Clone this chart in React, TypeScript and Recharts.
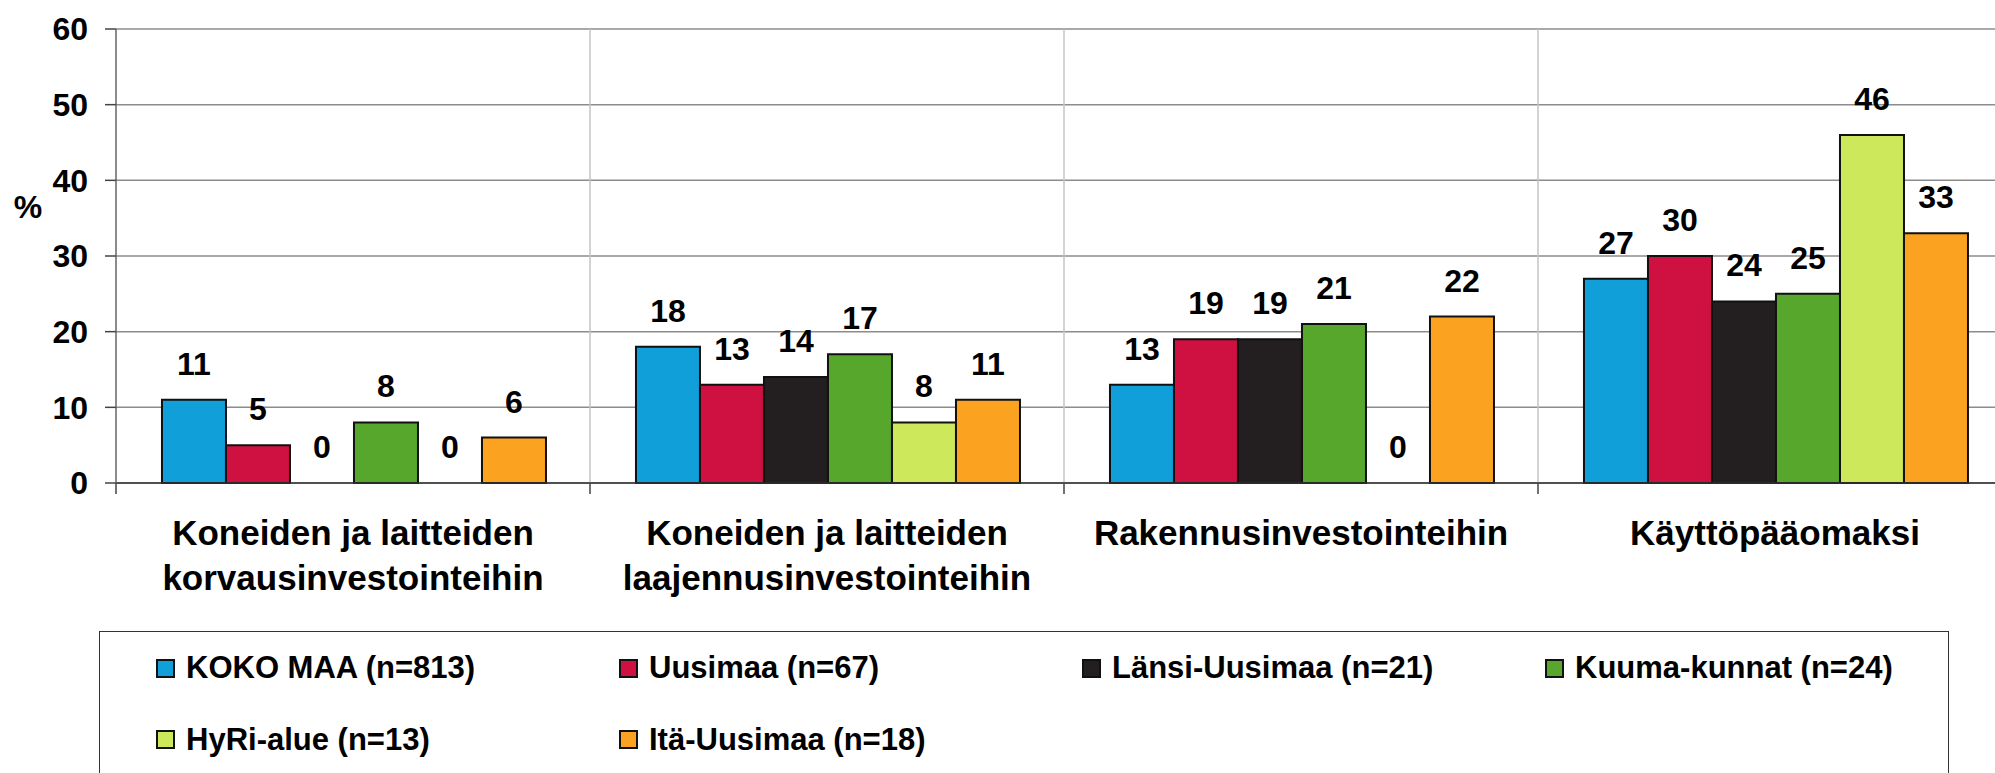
import { Bar, BarChart, CartesianGrid, LabelList, Legend, Rectangle, XAxis, YAxis } from "recharts";

// categories (line breaks as in the original axis labels)
const categories = [
  "Koneiden ja laitteiden\nkorvausinvestointeihin",
  "Koneiden ja laitteiden\nlaajennusinvestointeihin",
  "Rakennusinvestointeihin",
  "Käyttöpääomaksi",
];

// % per region
const kokoMaa = [11, 18, 13, 27];
const uusimaa = [5, 13, 19, 30];
const lansiUusimaa = [0, 14, 19, 24];
const kuumaKunnat = [8, 17, 21, 25];
const hyriAlue = [0, 8, 0, 46];
const itaUusimaa = [6, 11, 22, 33];

const yTicks = [0, 10, 20, 30, 40, 50, 60];

const series = [
  { key: "kokoMaa", name: "KOKO MAA (n=813)", values: kokoMaa, color: "#109FD9" },
  { key: "uusimaa", name: "Uusimaa (n=67)", values: uusimaa, color: "#CE1140" },
  { key: "lansiUusimaa", name: "Länsi-Uusimaa (n=21)", values: lansiUusimaa, color: "#231F20" },
  { key: "kuumaKunnat", name: "Kuuma-kunnat (n=24)", values: kuumaKunnat, color: "#57A72C" },
  { key: "hyriAlue", name: "HyRi-alue (n=13)", values: hyriAlue, color: "#CDE85A" },
  { key: "itaUusimaa", name: "Itä-Uusimaa (n=18)", values: itaUusimaa, color: "#FBA320" },
];

const data = categories.map((name, i) => {
  const row: Record<string, string | number> = { name };
  series.forEach((s) => (row[s.key] = s.values[i]));
  return row;
});

const FONT = "'Liberation Sans', Arial, sans-serif";
const CHART_W = 2030;
const CHART_H = 773;
const MARGIN = { top: 29, right: 18, bottom: 190, left: 0 };
const Y_W = 116;
const PLOT_W = CHART_W - MARGIN.left - MARGIN.right - Y_W;

// vertical grid lines sit on category boundaries, not centres
const boundaryLines = ({ offset }: any) => {
  const step = offset.width / categories.length;
  return categories.slice(1).map((_, i) => offset.left + (i + 1) * step);
};

const CategoryTick = (props: any) => {
  const { x, y, payload } = props;
  const half = PLOT_W / categories.length / 2;
  const lines = String(payload.value).split("\n");
  return (
    <g>
      <line x1={x - half} x2={x - half} y1={y} y2={y + 11} stroke="#444" strokeWidth={1.5} />
      <text
        x={x}
        y={y + 62}
        textAnchor="middle"
        fill="#000"
        fontSize={35}
        fontWeight="bold"
        fontFamily={FONT}
      >
        {lines.map((l, i) => (
          <tspan key={i} x={x} dy={i === 0 ? 0 : 45}>
            {l}
          </tspan>
        ))}
      </text>
    </g>
  );
};

// zero bars get a hair-thin height so their "0" label is kept, but are not drawn
const BarShape = (props: any) => (props.height > 0.5 ? <Rectangle {...props} /> : null);

// value above each bar
const ValueLabel = (props: any) => {
  const { x, y, width, value } = props;
  if (value == null) return null;
  return (
    <text
      x={x + width / 2}
      y={y - 25}
      textAnchor="middle"
      fill="#000"
      fontSize={32}
      fontWeight="bold"
      fontFamily={FONT}
    >
      {value}
    </text>
  );
};

const renderLegend = () => (
  <div
    style={{
      position: "relative",
      width: 1850,
      height: 180,
      border: "1.5px solid #333",
      boxSizing: "border-box",
      background: "#fff",
      fontFamily: FONT,
    }}
  >
    {series.map((s, i) => (
      <div
        key={s.key}
        style={{
          position: "absolute",
          left: 56 + (i % 4) * 463,
          top: 16 + Math.floor(i / 4) * 71.5,
          height: 40,
          display: "flex",
          alignItems: "center",
          whiteSpace: "nowrap",
        }}
      >
        <span
          style={{
            width: 19,
            height: 19,
            boxSizing: "border-box",
            border: "2px solid #111",
            background: s.color,
            marginRight: 11,
            display: "inline-block",
          }}
        />
        <span style={{ fontSize: 31, fontWeight: "bold", color: "#000" }}>{s.name}</span>
      </div>
    ))}
  </div>
);

export default function App() {
  return (
    <div
      style={{
        position: "absolute",
        left: 0,
        top: 0,
        width: 1995,
        height: 773,
        overflow: "hidden",
        background: "#fff",
      }}
    >
      <BarChart
        width={CHART_W}
        height={CHART_H}
        data={data}
        margin={MARGIN}
        barGap={0}
        barCategoryGap="9.7%"
        style={{ fontFamily: FONT }}
      >
        <CartesianGrid vertical={false} stroke="#8c8c8c" strokeWidth={1.5} />
        <CartesianGrid
          horizontal={false}
          stroke="#c4c4c4"
          strokeWidth={1.5}
          verticalCoordinatesGenerator={boundaryLines}
        />
        <XAxis
          dataKey="name"
          interval={0}
          height={100}
          tickLine={false}
          tickSize={0}
          tickMargin={0}
          axisLine={{ stroke: "#333", strokeWidth: 1.5 }}
          tick={<CategoryTick />}
        />
        <YAxis
          width={Y_W}
          domain={[0, 60]}
          ticks={yTicks}
          interval={0}
          tickSize={11}
          tickMargin={17}
          axisLine={{ stroke: "#666", strokeWidth: 1.5 }}
          tickLine={{ stroke: "#444", strokeWidth: 1.5 }}
          tick={{ fill: "#000", fontSize: 32, fontWeight: "bold", fontFamily: FONT }}
          label={({ viewBox }: any) => (
            <text
              x={(viewBox?.x ?? 0) + 28}
              y={(viewBox?.y ?? 29) + 178}
              textAnchor="middle"
              dominantBaseline="central"
              fontSize={32}
              fontWeight="bold"
              fontFamily={FONT}
              fill="#000"
            >
              %
            </text>
          )}
        />
        <Legend
          layout="horizontal"
          verticalAlign="middle"
          align="center"
          content={renderLegend}
          wrapperStyle={{ left: 99, top: 631, width: 1850, height: 180 }}
        />
        {series.map((s) => (
          <Bar
            key={s.key}
            dataKey={s.key}
            name={s.name}
            fill={s.color}
            stroke="#111"
            strokeWidth={2}
            minPointSize={0.01}
            shape={<BarShape />}
            isAnimationActive={false}
          >
            <LabelList dataKey={s.key} content={<ValueLabel />} />
          </Bar>
        ))}
      </BarChart>
    </div>
  );
}
